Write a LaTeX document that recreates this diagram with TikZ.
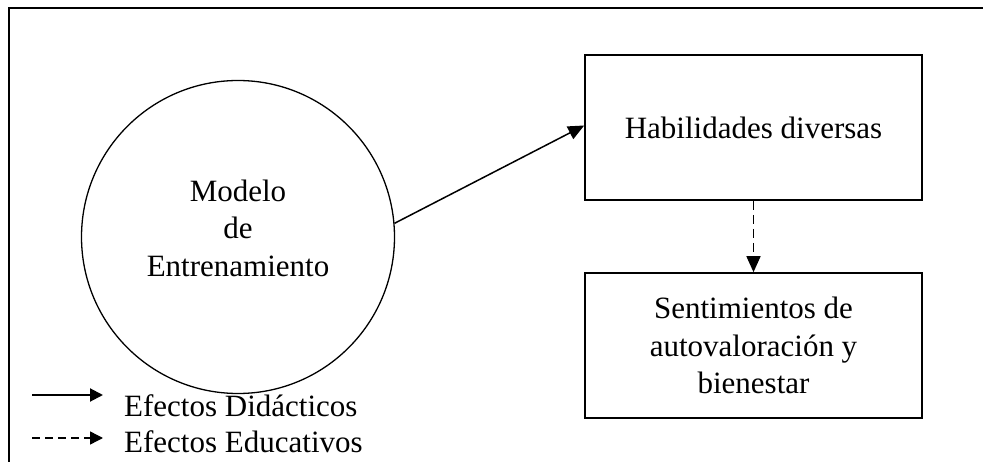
\documentclass[tikz,border=0pt]{standalone}
\usepackage{fontspec}
\setmainfont{Liberation Serif}
\usetikzlibrary{arrows.meta}
\begin{document}
\begin{tikzpicture}[x=1pt,y=-1pt,
  every node/.style={font=\fontsize{31}{37.5}\selectfont, inner sep=0pt},
  frame/.style={line width=2.2pt},
  boxnode/.style={draw, line width=1.6pt, minimum width=337pt, minimum height=145pt, align=center},
  circnode/.style={draw, circle, line width=1.3pt, minimum size=313pt},
  conn/.style={line width=1.5pt, -{Triangle[length=16pt,width=14pt]}},
  dconn/.style={conn, dash pattern=on 9pt off 5pt},
  legtxt/.style={anchor=base west}
]
\useasboundingbox (0,0) rectangle (983,462);
\fill[white] (0,0) rectangle (983,462);
% outer frame (top and left only)
\draw[frame] (9,462) -- (9,8) -- (983,8);
% nodes
\node[circnode] (m) at (238,237) {};
\node[align=center] (mt) at (238,228) {Modelo\\de\\Entrenamiento};
\node[boxnode] (h) at (753.5,127.5) {Habilidades diversas};
\node[boxnode] (s) at (753.5,345.5) {Sentimientos de\\autovaloración y\\bienestar};
% connectors
\draw[conn] (m.5) -- ([yshift=2pt]h.west);
\draw[dconn] (h.south) -- (s.north);
% legend
\coordinate (l1a) at (32,395);
\coordinate (l1b) at (103,395);
\coordinate (l2a) at (32,438);
\coordinate (l2b) at (103,438);
\draw[line width=2pt, -{Triangle[length=13pt,width=13pt]}] (l1a) -- (l1b);
\draw[line width=1.4pt, dash pattern=on 8pt off 5pt, -{Triangle[length=13pt,width=13pt]}] (l2a) -- (l2b);
\node[legtxt] (e1) at (124,416) {Efectos Didácticos};
\node[legtxt] (e2) at (124,452) {Efectos Educativos};
\end{tikzpicture}
\end{document}
